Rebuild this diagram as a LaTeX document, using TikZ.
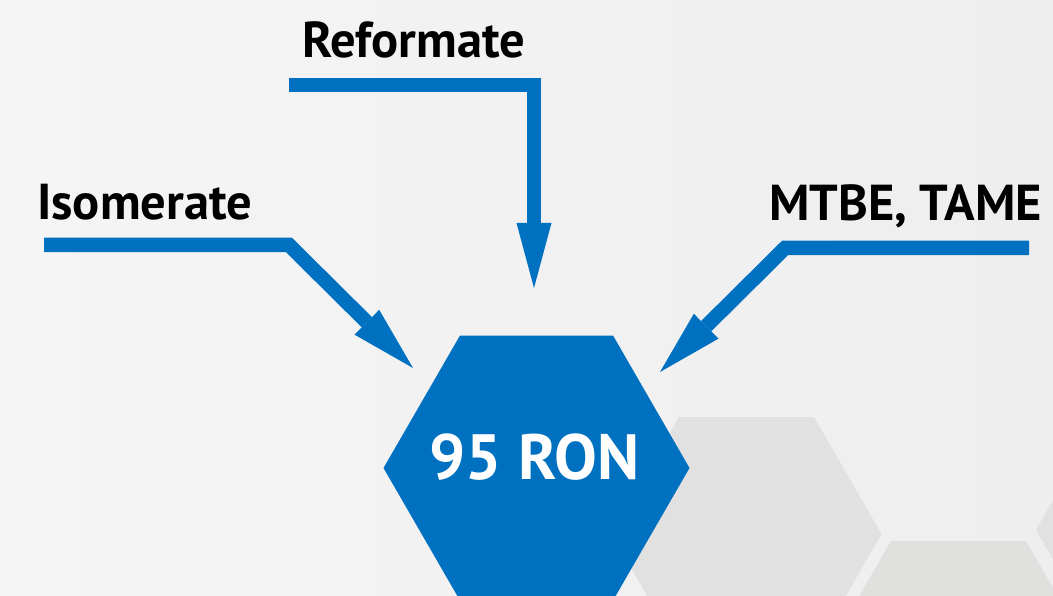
\documentclass[tikz,border=0pt]{standalone}
\usepackage{fontspec}
\setmainfont{PT Sans}
\usetikzlibrary{arrows.meta}
\definecolor{blu}{HTML}{0070C0}
\definecolor{hexg}{HTML}{E1E1E1}
\definecolor{hexgb}{HTML}{E0E0DE}
\definecolor{bgl}{HTML}{F5F5F5}
\definecolor{bgr}{HTML}{EEEEEE}
\begin{document}
\begin{tikzpicture}[x=1pt,y=-1pt,
  feed/.style={draw=blu, line width=14.5pt, line join=miter, -{Triangle[length=65pt,width=35pt,line width=0pt]}},
  lbl/.style={font=\bfseries\fontsize{50.5}{50.5}\selectfont, anchor=base west, inner sep=0pt, text=black},
  big/.style={font=\bfseries\fontsize{64}{64}\selectfont, anchor=base, inner sep=0pt, text=white}]
\useasboundingbox (0,0) rectangle (1053,596);
\shade[left color=bgl, right color=bgr] (0,0) rectangle (1053,596);
\begin{scope}
  \clip (0,0) rectangle (1053,596);
  \fill[hexg] (611.5,534) -- (679,417) -- (814,417) -- (881.5,534) -- (814,651) -- (679,651) -- cycle;
  \fill[hexgb] (823.5,658) -- (891,541) -- (1026,541) -- (1093.5,658) -- (1026,775) -- (891,775) -- cycle;
  \fill[hexg] (1036,530) -- (1103.5,413) -- (1238.5,413) -- (1306,530) -- (1238.5,647) -- (1103.5,647) -- cycle;
  \fill[blu] (383.5,468) -- (460,335.5) -- (613,335.5) -- (689.5,468) -- (613,600.5) -- (460,600.5) -- cycle;
\end{scope}
\node[big] (ron) at (534.5,479) {95 RON};
\node[lbl] (ref) at (302,58) {Reformate};
\node[lbl] (iso) at (37,220) {Isomerate};
\node[lbl] (mtbe) at (769,221) {MTBE, TAME};
\coordinate (refA) at (289,85);
\coordinate (refB) at (534,85);
\coordinate (refT) at (534,288);
\coordinate (isoA) at (44,245);
\coordinate (isoB) at (289,245);
\coordinate (isoT) at (413,368);
\coordinate (mtA) at (1029,248);
\coordinate (mtB) at (785,248);
\coordinate (mtT) at (660,372);
\draw[feed] (refA) -- (refB) -- (refT);
\draw[feed] (isoA) -- (isoB) -- (isoT);
\draw[feed] (mtA) -- (mtB) -- (mtT);
\end{tikzpicture}
\end{document}
